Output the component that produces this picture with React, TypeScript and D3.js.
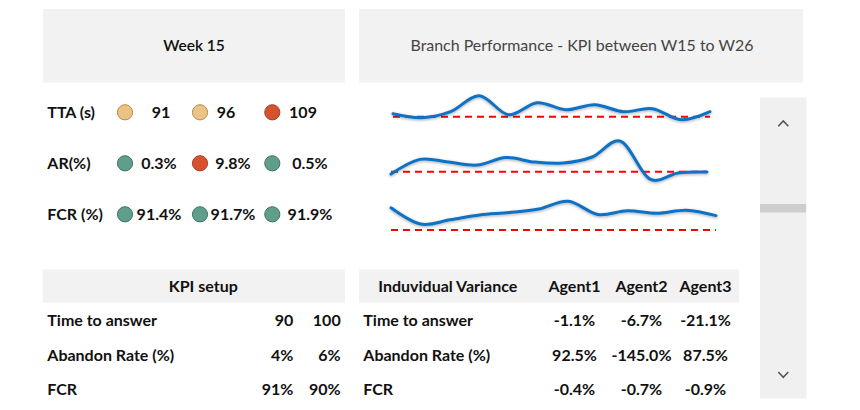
import React from "react";
import * as d3 from "d3";

// ---------- data ----------
const weeks = ["W15", "W16", "W17", "W18", "W19", "W20", "W21", "W22", "W23", "W24", "W25", "W26"];
const ttaSeries = [103, 99, 105, 121, 102, 114, 107, 112, 105, 108, 97, 105];
const arSeries = [3.2, 8.1, 7.2, 6.2, 8.7, 7.2, 6.9, 8.9, 14.1, 1.6, 3.6, 3.9];
const fcrSeries = [93.7, 91.0, 91.7, 92.5, 92.9, 93.5, 94.8, 92.6, 93.2, 92.8, 93.3, 92.4];
const ttaTarget = 100;
const arTarget = 4;
const fcrTarget = 90;

const kpiLabels = ["TTA (s)", "AR(%)", "FCR (%)"];
const agentTTA = ["91", "96", "109"];
const agentAR = ["0.3%", "9.8%", "0.5%"];
const agentFCR = ["91.4%", "91.7%", "91.9%"];
const agentTTAStatus = ["warn", "warn", "bad"];
const agentARStatus = ["good", "bad", "good"];
const agentFCRStatus = ["good", "good", "good"];

const setupLabels = ["Time to answer", "Abandon Rate (%)", "FCR"];
const setupLow = ["90", "4%", "91%"];
const setupHigh = ["100", "6%", "90%"];

const agents = ["Agent1", "Agent2", "Agent3"];
const varTTA = ["-1.1%", "-6.7%", "-21.1%"];
const varAR = ["92.5%", "-145.0%", "87.5%"];
const varFCR = ["-0.4%", "-0.7%", "-0.9%"];

// ---------- styles ----------
const FONT = "Lato, 'Open Sans', sans-serif";
const FS = 16;
const FW = 700;
const statusFill: Record<string, string> = { warn: "#EBC386", bad: "#D6522F", good: "#5F9E8B" };
const statusStroke: Record<string, string> = { warn: "#B88E45", bad: "#A8402A", good: "#3F7464" };

export default function App() {
  const agentRows = [
    { label: kpiLabels[0], vals: agentTTA, st: agentTTAStatus, cy: 112.3, cx: [161, 226, 303] },
    { label: kpiLabels[1], vals: agentAR, st: agentARStatus, cy: 163.3, cx: [159, 233, 310] },
    { label: kpiLabels[2], vals: agentFCR, st: agentFCRStatus, cy: 214.3, cx: [159, 233, 310] },
  ];
  const circleX = [125, 200, 272.3];

  const sparks = [
    { data: ttaSeries, target: ttaTarget, x0: 393, x1: 710, dom: [100, 120], rng: [116.7, 96.7] },
    { data: arSeries, target: arTarget, x0: 391, x1: 707, dom: [4, 14], rng: [171.7, 141.7] },
    { data: fcrSeries, target: fcrTarget, x0: 391, x1: 716, dom: [90, 95], rng: [230, 200] },
  ];

  const setupRows = setupLabels.map((l, i) => ({ label: l, a: setupLow[i], b: setupHigh[i] }));
  const varRows = [
    { label: setupLabels[0], vals: varTTA },
    { label: setupLabels[1], vals: varAR },
    { label: setupLabels[2], vals: varFCR },
  ];
  const rowBase = [325.7, 360.5, 395];
  const agentColX = [574.5, 641.5, 705.5];

  return (
    <svg width={860} height={410} style={{ position: "absolute", left: 0, top: 0 }} fontFamily={FONT}>
      <defs>
        <filter id="glow" x="-10%" y="-50%" width="120%" height="200%">
          <feDropShadow dx="0" dy="1" stdDeviation="1.6" floodColor="#000" floodOpacity="0.35" />
        </filter>
      </defs>
      <rect width={860} height={410} fill="#fff" />

      {/* header boxes */}
      <rect x={43} y={9} width={302} height={73.5} fill="#F2F2F2" />
      <rect x={359} y={9} width={444} height={73.5} fill="#F2F2F2" />
      <text x={194} y={51} textAnchor="middle" fontSize={15.5} fontWeight={600} fill="#111">Week 15</text>
      <text x={582} y={51} textAnchor="middle" fontSize={16} fill="#444" textLength={343} lengthAdjust="spacingAndGlyphs">
        Branch Performance - KPI between W15 to W26
      </text>

      {/* agent KPI rows */}
      {agentRows.map((r, i) => (
        <g key={i}>
          <text x={47.3} y={r.cy + 5.6} fontSize={FS} fontWeight={FW} fill="#111">{r.label}</text>
          {r.vals.map((v, j) => (
            <g key={j}>
              <circle cx={circleX[j]} cy={r.cy} r={7.6} fill={statusFill[r.st[j]]} stroke={statusStroke[r.st[j]]} strokeWidth={1} />
              <text x={r.cx[j]} y={r.cy + 5.6} textAnchor="middle" fontSize={FS} fontWeight={FW} fill="#111">{v}</text>
            </g>
          ))}
        </g>
      ))}

      {/* sparklines */}
      {sparks.map((s, i) => {
        const x = d3.scaleLinear().domain([0, weeks.length - 1]).range([s.x0, s.x1]);
        const y = d3.scaleLinear().domain(s.dom).range(s.rng);
        const line = d3
          .line<number>()
          .x((_, k) => x(k))
          .y((d) => y(d))
          .curve(d3.curveCatmullRom.alpha(0));
        return (
          <g key={i}>
            <line x1={x(0)} x2={x(weeks.length - 1)} y1={y(s.target)} y2={y(s.target)} stroke="#FF0000" strokeWidth={2} strokeDasharray="7 5" />
            <path d={line(s.data) || ""} fill="none" stroke="#1071C4" strokeWidth={3} strokeLinecap="round" filter="url(#glow)" />
          </g>
        );
      })}

      {/* scrollbar */}
      <rect x={760} y={97.5} width={46.5} height={301} fill="#F0F0F0" />
      <rect x={760} y={204} width={46} height={8.5} fill="#CDCDCD" />
      <polyline points="778.3,126.3 783.3,121 788.3,126.3" fill="none" stroke="#555" strokeWidth={1.6} />
      <polyline points="778.3,372 783.3,377.3 788.3,372" fill="none" stroke="#555" strokeWidth={1.6} />

      {/* KPI setup table */}
      <rect x={42.7} y={269.3} width={302.3} height={33.4} fill="#F2F2F2" />
      <text x={203.3} y={292.3} textAnchor="middle" fontSize={FS} fontWeight={FW} fill="#111">KPI setup</text>
      {setupRows.map((r, i) => (
        <g key={i}>
          <text x={47.3} y={rowBase[i]} fontSize={FS} fontWeight={FW} fill="#111">{r.label}</text>
          <text x={293.3} y={rowBase[i]} textAnchor="end" fontSize={FS} fontWeight={FW} fill="#111">{r.a}</text>
          <text x={340.7} y={rowBase[i]} textAnchor="end" fontSize={FS} fontWeight={FW} fill="#111">{r.b}</text>
        </g>
      ))}

      {/* Individual variance table */}
      <rect x={359} y={269.3} width={380} height={33.4} fill="#F2F2F2" />
      <text x={378.3} y={292.3} fontSize={FS} fontWeight={FW} fill="#111">Induvidual Variance</text>
      {agents.map((a, j) => (
        <text key={a} x={agentColX[j]} y={292.3} textAnchor="middle" fontSize={FS} fontWeight={FW} fill="#111">{a}</text>
      ))}
      {varRows.map((r, i) => (
        <g key={i}>
          <text x={363.3} y={rowBase[i]} fontSize={FS} fontWeight={FW} fill="#111">{r.label}</text>
          {r.vals.map((v, j) => (
            <text key={j} x={agentColX[j]} y={rowBase[i]} textAnchor="middle" fontSize={FS} fontWeight={FW} fill="#111">{v}</text>
          ))}
        </g>
      ))}
    </svg>
  );
}
